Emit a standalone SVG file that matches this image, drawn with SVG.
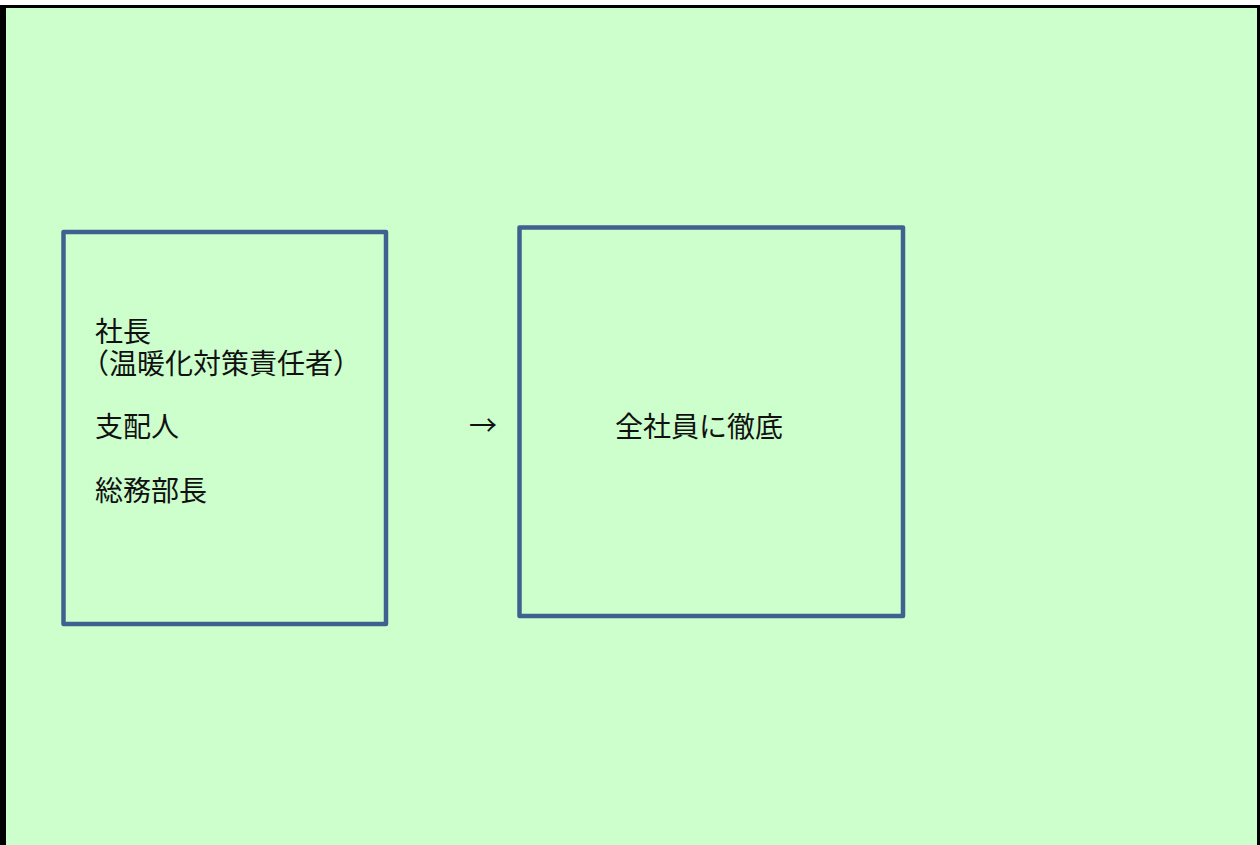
<svg xmlns="http://www.w3.org/2000/svg" width="1260" height="845" viewBox="0 0 1260 845">
<style>
.box{fill:none;stroke:#40608F;stroke-width:4.5;stroke-linejoin:round}
.t{font-family:"Noto Sans CJK JP","Noto Sans CJK SC",sans-serif;font-size:28px;fill:#111}
.h{font-feature-settings:"halt"}
</style>
<rect x="0" y="0" width="1260" height="845" fill="#fff"/>
<rect x="0" y="5" width="1260" height="840" fill="#000"/>
<rect x="6" y="8" width="1251" height="837" fill="#CCFFCC"/>
<g id="node-left">
<rect class="box" x="63.5" y="232" width="322.5" height="392"/>
<text class="t"><tspan x="95" y="342">社長</tspan><tspan class="h" x="95" y="374">（温暖化対策責任者）</tspan><tspan x="95" y="437">支配人</tspan><tspan x="95" y="501">総務部長</tspan></text>
</g>
<g id="connectors">
<text class="t" x="469" y="436">→</text>
</g>
<g id="node-right">
<rect class="box" x="519.5" y="227.5" width="383.5" height="388.5"/>
<text class="t" x="615" y="437">全社員に徹底</text>
</g>
</svg>
